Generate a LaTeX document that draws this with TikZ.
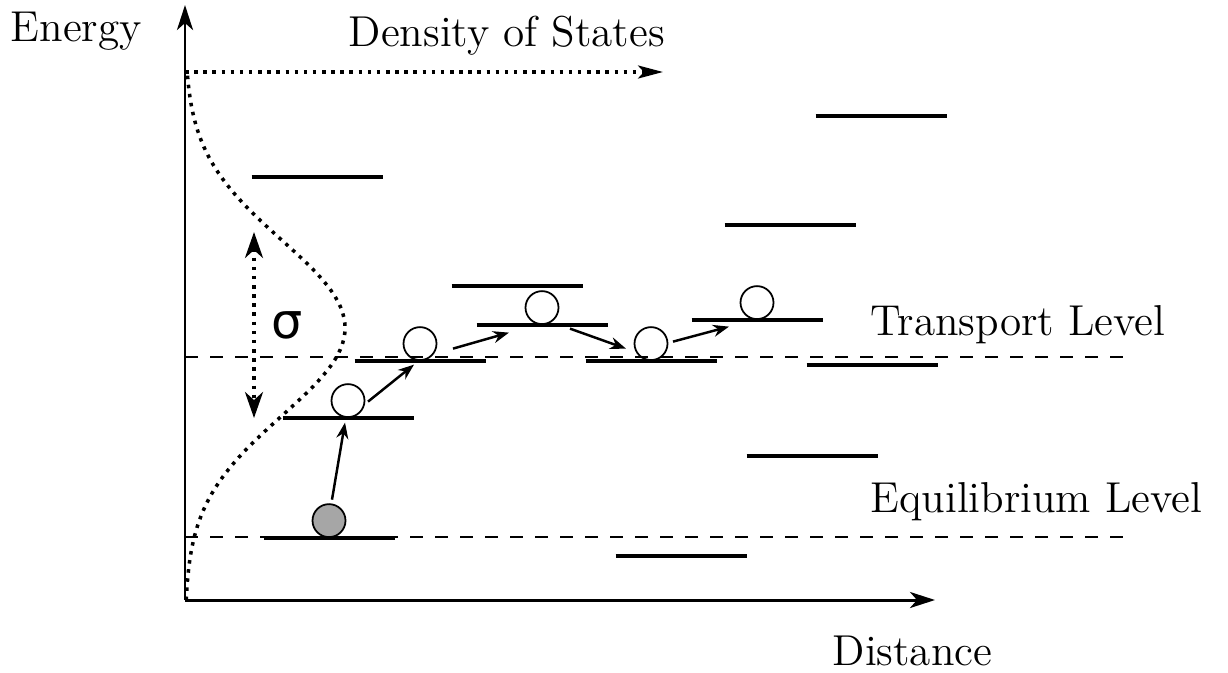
\documentclass[tikz,border=0pt]{standalone}
\usepackage{fontspec}
\newfontfamily\sigmafont{DejaVu Sans}
\usetikzlibrary{arrows.meta}

\begin{document}
\begin{tikzpicture}[
    font=\fontsize{12.3}{15}\selectfont,
    lbl/.style={anchor=base west, inner sep=0pt},
    level/.style={line width=0.95pt},
    refline/.style={line width=0.8pt, dash pattern=on 1.3mm off 1.2mm},
    dos/.style={line width=1pt, dash pattern=on 1pt off 1.6pt},
    axis/.style={line width=0.85pt, -{Stealth[length=2.5mm, width=1.6mm, inset=0.7mm]}},
    hop/.style={line width=0.7pt, -{Stealth[length=1.6mm, width=1.2mm]}},
    carrier/.style={circle, draw, line width=0.5pt, minimum size=3.3mm, inner sep=0pt, anchor=south}
]
    \useasboundingbox (0,0) rectangle (12.28,6.72);

    % Axes
    \coordinate (O) at (1.85,0.72);
    \coordinate (dtop) at (1.85,6.00);
    \draw[axis] (O) -- (1.85,6.67);
    \draw[axis] (O) -- (9.35,0.72);
    \draw[dos, -{Stealth[length=2.5mm, width=1.3mm, inset=0.6mm]}] (dtop) -- (6.63,6.00);

    % Labels
    \node[lbl] (energy) at (0.10,6.30) {Energy};
    \node[lbl] (states) at (3.48,6.25) {Density of States};
    \node[lbl] (transport) at (8.70,3.37) {Transport Level};
    \node[lbl] (equil) at (8.70,1.60) {Equilibrium Level};
    \node[lbl] (distance) at (8.32,0.07) {Distance};

    % Gaussian density of states
    \draw[dos] plot[domain=0.72:6.0, samples=100, variable=\t]
        ({1.85+1.6*exp(-((\t-3.44)^2)/1.535)}, \t);
    \draw[dos, {Stealth[length=2.6mm, width=1.8mm, inset=0.8mm]}-{Stealth[length=2.6mm, width=1.8mm, inset=0.8mm]}]
        (2.54,4.40) -- (2.54,2.54);
    \node[font=\sigmafont\fontsize{14}{16}\selectfont] (sigma) at (2.87,3.47) {σ};

    % Reference levels
    \draw[refline] (1.85,3.15) -- (11.25,3.15);
    \draw[refline] (1.85,1.35) -- (11.25,1.35);

    % Localized states
    \foreach \x/\y [count=\i] in {3.17/4.95, 8.81/5.56, 7.90/4.47, 5.17/3.86, 5.42/3.47,
        7.57/3.52, 4.20/3.11, 6.51/3.11, 8.72/3.07, 3.48/2.54, 8.12/2.16, 3.29/1.34, 6.81/1.16}
        \draw[level] (\x-0.655,\y) -- coordinate (l\i) (\x+0.655,\y);

    % Carriers
    \node[carrier, fill=black!35] (c0) at (l12) {};
    \node[carrier] (c1) at (l10) {};
    \node[carrier] (c2) at (l7) {};
    \node[carrier] (c3) at (l5) {};
    \node[carrier] (c4) at (l8) {};
    \node[carrier] (c5) at (l6) {};

    % Hops
    \draw[hop] ([shift={(0.03,0.21)}]c0.center) -- ([shift={(-0.03,-0.22)}]c1.center);
    \draw[hop] ([shift={(0.20,-0.01)}]c1.center) -- ([shift={(-0.06,-0.21)}]c2.center);
    \draw[hop] ([shift={(0.33,-0.05)}]c2.center) -- ([shift={(-0.33,-0.25)}]c3.center);
    \draw[hop] ([shift={(0.28,-0.21)}]c3.center) -- ([shift={(-0.25,-0.05)}]c4.center);
    \draw[hop] ([shift={(0.22,0.02)}]c4.center) -- ([shift={(-0.28,-0.24)}]c5.center);
\end{tikzpicture}
\end{document}
